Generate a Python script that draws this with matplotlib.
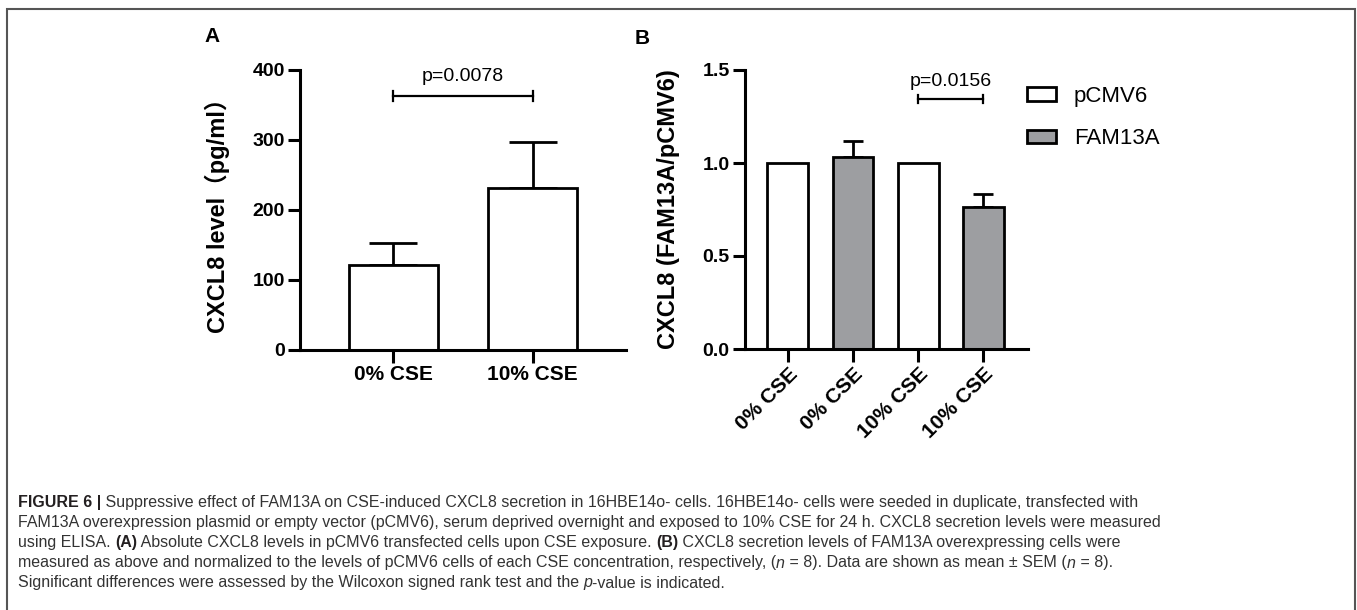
import matplotlib
matplotlib.use("Agg")
import matplotlib.pyplot as plt
from matplotlib.patches import Patch
from matplotlib.font_manager import FontProperties

plt.rcParams['font.family'] = ['Liberation Sans', 'Noto Sans CJK SC', 'DejaVu Sans']

# panel A data
a_labels = ["0% CSE", "10% CSE"]
a_means = [121, 232]
a_sem = [32, 65]
a_p = "p=0.0078"

# panel B data
b_labels = ["0% CSE", "0% CSE", "10% CSE", "10% CSE"]
b_groups = ["pCMV6", "FAM13A", "pCMV6", "FAM13A"]
b_means = [1.0, 1.03, 1.0, 0.762]
b_sem = [0.0, 0.09, 0.0, 0.07]
b_p = "p=0.0156"

group_colors = {"pCMV6": "white", "FAM13A": "#9d9ea1"}

W, H = 1357, 610
fig = plt.figure(figsize=(W / 100, H / 100), dpi=100)

def fx(px):
    return px / W

def fy(px):
    return 1 - px / H

LW = 2.2
ytickfont = dict(fontsize=14, fontweight="bold")
xtickfont = dict(fontsize=15, fontweight="bold")

def style_axes(ax):
    for s in ["top", "right"]:
        ax.spines[s].set_visible(False)
    for s in ["left", "bottom"]:
        ax.spines[s].set_linewidth(LW)
    ax.tick_params(width=LW, length=9, pad=2)

# ---- panel A ----
axA = fig.add_axes([fx(300), fy(350), fx(326), (350 - 70) / H])
xa = list(range(len(a_labels)))
axA.bar(xa, a_means, width=0.64, color="white", edgecolor="black", linewidth=2.0, zorder=2)
axA.errorbar(xa, a_means, yerr=[[0] * len(a_sem), a_sem], fmt="none", ecolor="black",
             elinewidth=2.0, capsize=17, capthick=2.0, zorder=1)
axA.set_xlim(-0.67, 1.67)
axA.set_ylim(0, 400)
axA.set_yticks([0, 100, 200, 300, 400])
axA.set_xticks(xa)
axA.set_xticklabels(a_labels, **xtickfont)
axA.set_yticklabels([f"{v}" for v in [0, 100, 200, 300, 400]], **ytickfont)
style_axes(axA)
axA.set_ylabel("CXCL8 level（pg/ml）", fontsize=17, fontweight="bold")
axA.yaxis.set_label_coords(-0.215, 0.5)
# significance bracket
axA.plot([0, 1], [363, 363], color="black", lw=1.6, clip_on=False)
for xv in [0, 1]:
    axA.plot([xv, xv], [356, 370], color="black", lw=1.6, clip_on=False)
axA.text(0.5, 378, a_p, ha="center", va="bottom", fontsize=14)
fig.text(fx(212), fy(36), "A", fontsize=15, fontweight="bold", ha="center", va="center")

# ---- panel B ----
axB = fig.add_axes([fx(745), fy(349), fx(283), (349 - 70) / H])
xb = list(range(len(b_labels)))
axB.bar(xb, b_means, width=0.63, color=[group_colors[g] for g in b_groups],
        edgecolor="black", linewidth=2.0, zorder=2)
err_idx = [i for i, s in enumerate(b_sem) if s > 0]
axB.errorbar([xb[i] for i in err_idx], [b_means[i] for i in err_idx],
             yerr=[[0] * len(err_idx), [b_sem[i] for i in err_idx]], fmt="none",
             ecolor="black", elinewidth=2.0, capsize=7.5, capthick=2.0, zorder=1)
axB.set_xlim(-0.66, 3.69)
axB.set_ylim(0, 1.5)
axB.set_yticks([0, 0.5, 1.0, 1.5])
axB.set_yticklabels([f"{v:.1f}" for v in [0, 0.5, 1.0, 1.5]], **ytickfont)
axB.set_xticks(xb)
axB.set_xticklabels(b_labels, rotation=45, ha="right", rotation_mode="anchor", **xtickfont)
style_axes(axB)
axB.set_ylabel("CXCL8 (FAM13A/pCMV6)", fontsize=17, fontweight="bold")
axB.yaxis.set_label_coords(-0.23, 0.5)
axB.plot([2, 3], [1.344, 1.344], color="black", lw=1.6, clip_on=False)
for xv in [2, 3]:
    axB.plot([xv, xv], [1.322, 1.366], color="black", lw=1.6, clip_on=False)
axB.text(2.5, 1.39, b_p, ha="center", va="bottom", fontsize=14)
fig.text(fx(642), fy(38), "B", fontsize=15, fontweight="bold", ha="center", va="center")

handles = [Patch(facecolor=group_colors[g], edgecolor="black", linewidth=2.0, label=g)
           for g in ["pCMV6", "FAM13A"]]
fig.legend(handles=handles, loc="upper left", bbox_to_anchor=(fx(1027), fy(86)),
           frameon=False, fontsize=16, handlelength=1.3, handleheight=0.55,
           handletextpad=0.8, labelspacing=0.95, borderpad=0, borderaxespad=0)

# ---- caption ----
caption = [
    [("FIGURE 6 |", "bold"), (" Suppressive effect of FAM13A on CSE-induced CXCL8 secretion in 16HBE14o- cells. "
                              "16HBE14o- cells were seeded in duplicate, transfected with", "normal")],
    [("FAM13A overexpression plasmid or empty vector (pCMV6), serum deprived overnight and exposed to "
      "10% CSE for 24 h. CXCL8 secretion levels were measured", "normal")],
    [("using ELISA. ", "normal"), ("(A)", "bold"),
     (" Absolute CXCL8 levels in pCMV6 transfected cells upon CSE exposure. ", "normal"), ("(B)", "bold"),
     (" CXCL8 secretion levels of FAM13A overexpressing cells were", "normal")],
    [("measured as above and normalized to the levels of pCMV6 cells of each CSE concentration, "
      "respectively, (", "normal"), ("n", "italic"), (" = 8). Data are shown as mean ± SEM (", "normal"),
     ("n", "italic"), (" = 8).", "normal")],
    [("Significant differences were assessed by the Wilcoxon signed rank test and the ", "normal"),
     ("p", "italic"), ("-value is indicated.", "normal")],
]

cap_family = ["Liberation Sans Narrow", "Liberation Sans"]
renderer = fig.canvas.get_renderer()

def fprops(kind, size):
    return FontProperties(family=cap_family, size=size,
                          weight="bold" if kind == "bold" else "normal",
                          style="italic" if kind == "italic" else "normal")

def run_width(s, kind, size):
    fp = fprops(kind, size)
    w1 = renderer.get_text_width_height_descent("|" + s + "|", fp, ismath=False)[0]
    w0 = renderer.get_text_width_height_descent("||", fp, ismath=False)[0]
    return w1 - w0

# fit the first caption line to its width in the figure
base = 10
w_line = sum(run_width(s, k, base) for s, k in caption[0])
cap_size = base * 1126 / w_line

for i, line in enumerate(caption):
    xpix = 18
    ypix = 503 + 20 * i
    for s, k in line:
        fig.text(fx(xpix), fy(ypix), s, fontproperties=fprops(k, cap_size),
                 color="#231f20" if k == "bold" else "#333333", ha="left", va="center")
        xpix += run_width(s, k, cap_size)

# outer frame
frame = plt.Rectangle((fx(7), -0.05), fx(1355 - 7), fy(9) + 0.05, transform=fig.transFigure,
                      fill=False, edgecolor="#555555", linewidth=1.5)
fig.patches.append(frame)

fig.savefig("out.png", dpi=100)
